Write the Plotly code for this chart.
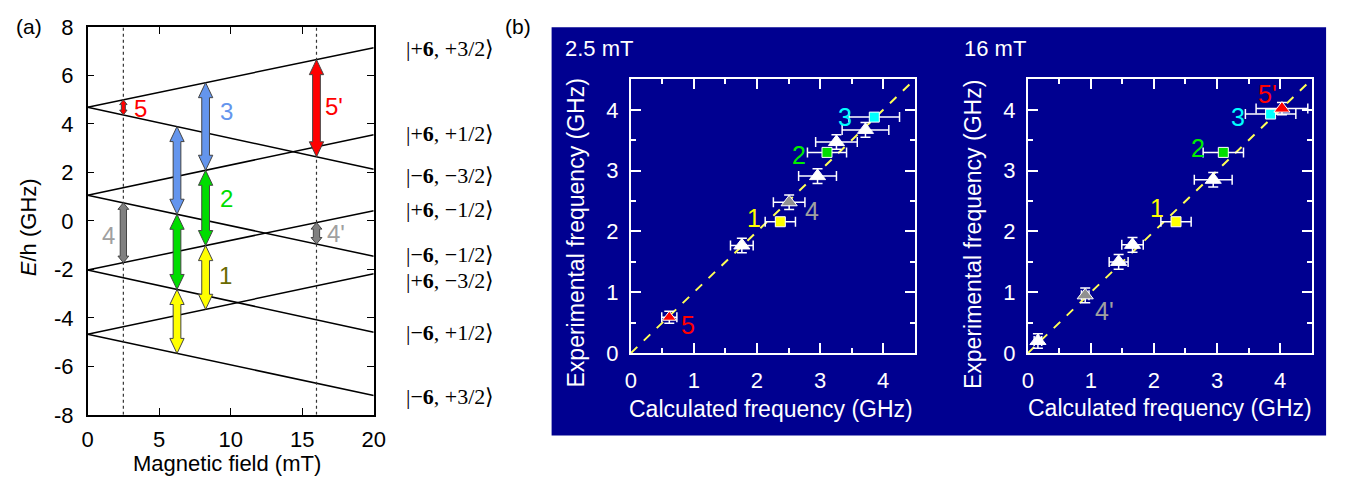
import plotly.graph_objects as go

# ---------------- Panel (a): energy levels ----------------
level_E0 = [4.69, 4.69, 1.06, 1.06, -2.03, -2.03, -4.68, -4.68]
level_E20 = [7.14, 2.13, 3.55, -1.46, 0.42, -4.59, -2.18, -7.2]
field_range = [0, 20]
dotted_fields = [2.5, 16]

ket_labels = ["|+<b>6</b>, +3/2⟩", "|+<b>6</b>, +1/2⟩", "|−<b>6</b>, −3/2⟩", "|+<b>6</b>, −1/2⟩",
              "|−<b>6</b>, −1/2⟩", "|+<b>6</b>, −3/2⟩", "|−<b>6</b>, +1/2⟩", "|−<b>6</b>, +3/2⟩"]
ket_label_E = [7.09, 3.60, 1.88, 0.47, -1.37, -2.47, -4.62, -7.24]

# transitions: field, lower level index, upper level index, colour
arrow_field = [2.5, 2.5, 6.25, 6.25, 6.25, 8.25, 8.25, 8.25, 16, 16]
arrow_low = [1, 4, 3, 5, 7, 2, 4, 6, 1, 3]
arrow_high = [0, 3, 1, 3, 5, 0, 2, 4, 0, 4]
arrow_color = ["#ff0000", "#808080", "#6495ed", "#00dd00", "#ffff00",
               "#6495ed", "#00dd00", "#ffff00", "#ff0000", "#808080"]
arrow_size = ["xs", "s", "l", "l", "l", "l", "l", "l", "l", "s"]

trans_text = ["5", "3", "5'", "2", "4", "4'", "1"]
trans_B = [3.68, 9.74, 17.2, 9.74, 1.49, 17.35, 9.65]
trans_E = [4.63, 4.5, 4.7, 0.94, -0.59, -0.52, -2.24]
trans_color = ["#ff0000", "#6495ed", "#ff0000", "#00dd00", "#a0a0a0", "#a0a0a0", "#6a6a00"]

# ---------------- Panel (b): frequencies ----------------
# 2.5 mT
b1_white_x = [1.76, 2.96, 3.26, 3.72]
b1_white_y = [1.77, 2.91, 3.47, 3.67]
b1_white_xerr = [0.18, 0.30, 0.33, 0.37]
b1_red_x, b1_red_y, b1_red_xerr = [0.61], [0.59], [0.12]
b1_gray_x, b1_gray_y, b1_gray_xerr = [2.51], [2.48], [0.25]
b1_yel_x, b1_yel_y, b1_yel_xerr = [2.37], [2.16], [0.24]
b1_grn_x, b1_grn_y, b1_grn_xerr = [3.11], [3.30], [0.31]
b1_cyn_x, b1_cyn_y, b1_cyn_xerr = [3.86], [3.88], [0.40]
b1_lab_text = ["5", "1", "4", "2", "3"]
b1_lab_x = [0.91, 1.95, 2.88, 2.66, 3.40]
b1_lab_y = [0.46, 2.22, 2.34, 3.25, 3.89]
b1_lab_color = ["#ff0000", "#ffff00", "#a0a0a0", "#00ee00", "#00ffff"]

# 16 mT
b2_white_x = [0.16, 1.44, 1.66, 2.94]
b2_white_y = [0.20, 1.50, 1.78, 2.85]
b2_white_xerr = [0.06, 0.15, 0.17, 0.30]
b2_gray_x, b2_gray_y, b2_gray_xerr = [0.91], [0.95], [0.06]
b2_yel_x, b2_yel_y, b2_yel_xerr = [2.35], [2.16], [0.24]
b2_grn_x, b2_grn_y, b2_grn_xerr = [3.10], [3.30], [0.32]
b2_cyn_x, b2_cyn_y, b2_cyn_xerr = [3.85], [3.93], [0.40]
b2_red_x, b2_red_y, b2_red_xerr = [4.03], [4.02], [0.41]
b2_lab_text = ["4'", "1", "2", "3", "5'"]
b2_lab_x = [1.21, 2.05, 2.70, 3.34, 3.80]
b2_lab_y = [0.69, 2.38, 3.37, 3.89, 4.26]
b2_lab_color = ["#a0a0a0", "#ffff00", "#00ee00", "#00ffff", "#ff0000"]

freq_ticks = [0, 1, 2, 3, 4]
energy_ticks = [-8, -6, -4, -2, 0, 2, 4, 6, 8]
field_ticks = [0, 5, 10, 15, 20]

SANS = "Liberation Sans, Arial, sans-serif"
SERIF = "Liberation Serif, Times New Roman, serif"
NAVY = "#000090"

W, H = 1345, 494
def px(x): return x / W
def py(y): return 1 - y / H

fig = go.Figure()

# energy level lines
for e0, e20 in zip(level_E0, level_E20):
    fig.add_trace(go.Scatter(x=field_range, y=[e0, e20], mode="lines",
                             line=dict(color="black", width=1.5),
                             xaxis="x", yaxis="y", showlegend=False, hoverinfo="skip"))
for b in dotted_fields:
    fig.add_trace(go.Scatter(x=[b, b], y=[energy_ticks[0], energy_ticks[-1]], mode="lines",
                             line=dict(color="#333333", width=1.2, dash="dot"),
                             xaxis="x", yaxis="y", showlegend=False, hoverinfo="skip"))

def level_E(i, b):
    return level_E0[i] + (level_E20[i] - level_E0[i]) * b / field_range[1]

size_style = {"l": (0.27, 0.50, 0.62), "s": (0.22, 0.38, 0.27), "xs": (0.14, 0.26, 0.2)}
for b, lo, hi, col, sz in zip(arrow_field, arrow_low, arrow_high, arrow_color, arrow_size):
    y0, y1 = level_E(lo, b), level_E(hi, b)
    ws, wh, h = size_style[sz]
    xs = [b, b - wh, b - ws, b - ws, b - wh, b, b + wh, b + ws, b + ws, b + wh, b]
    ys = [y0, y0 + h, y0 + h, y1 - h, y1 - h, y1, y1 - h, y1 - h, y0 + h, y0 + h, y0]
    fig.add_trace(go.Scatter(x=xs, y=ys, mode="lines", fill="toself", fillcolor=col,
                             line=dict(color="#444444", width=1),
                             xaxis="x", yaxis="y", showlegend=False, hoverinfo="skip"))

# panel b traces
for ax in ["2", "3"]:
    fig.add_trace(go.Scatter(x=[0, 4.5], y=[0, 4.5], mode="lines",
                             line=dict(color="#ffff55", width=2, dash="dash"),
                             xaxis="x" + ax, yaxis="y" + ax, showlegend=False, hoverinfo="skip"))

def pts(x, y, xerr, yerr, symbol, color, size, ax, outline="white"):
    fig.add_trace(go.Scatter(
        x=x, y=y, mode="markers", xaxis="x" + ax, yaxis="y" + ax, showlegend=False,
        marker=dict(symbol=symbol, color=color, size=size, line=dict(color=outline, width=1)),
        error_x=dict(type="data", array=xerr, color="white", thickness=1.5, width=5),
        error_y=dict(type="data", array=yerr, color="white", thickness=1.5, width=5)))

TRI, SQ = 14, 10
pts(b1_white_x, b1_white_y, b1_white_xerr, [0.12] * 4, "triangle-up", "white", TRI, "2")
pts(b1_red_x, b1_red_y, b1_red_xerr, [0.1], "triangle-up", "red", 12, "2")
pts(b1_gray_x, b1_gray_y, b1_gray_xerr, [0.12], "triangle-up", "#909090", TRI, "2")
pts(b1_yel_x, b1_yel_y, b1_yel_xerr, [0.05], "square", "#ffff00", SQ, "2")
pts(b1_grn_x, b1_grn_y, b1_grn_xerr, [0.05], "square", "#00dd00", SQ, "2")
pts(b1_cyn_x, b1_cyn_y, b1_cyn_xerr, [0.05], "square", "#00ffff", SQ, "2")

pts(b2_white_x, b2_white_y, b2_white_xerr, [0.12] * 4, "triangle-up", "white", TRI, "3")
pts(b2_gray_x, b2_gray_y, b2_gray_xerr, [0.12], "triangle-up", "#909090", TRI, "3")
pts(b2_yel_x, b2_yel_y, b2_yel_xerr, [0.05], "square", "#ffff00", SQ, "3")
pts(b2_grn_x, b2_grn_y, b2_grn_xerr, [0.05], "square", "#00dd00", SQ, "3")
pts(b2_cyn_x, b2_cyn_y, b2_cyn_xerr, [0.05], "square", "#00ffff", SQ, "3")
pts(b2_red_x, b2_red_y, b2_red_xerr, [0.1], "triangle-up", "red", TRI, "3")

annotations = []
# panel a transition labels
for t, b, e, c in zip(trans_text, trans_B, trans_E, trans_color):
    annotations.append(dict(x=b, y=e, xref="x", yref="y", text=t, showarrow=False,
                            xanchor="center", yanchor="middle",
                            font=dict(family=SANS, size=24, color=c)))
# ket labels
for t, e in zip(ket_labels, ket_label_E):
    annotations.append(dict(x=px(403), y=e, xref="paper", yref="y", text=t, showarrow=False,
                            xanchor="left", yanchor="middle",
                            font=dict(family=SERIF, size=22, color="black")))
for txt, xs, ys, cs, ax in [(b1_lab_text, b1_lab_x, b1_lab_y, b1_lab_color, "2"),
                            (b2_lab_text, b2_lab_x, b2_lab_y, b2_lab_color, "3")]:
    for t, x, y, c in zip(txt, xs, ys, cs):
        annotations.append(dict(x=x, y=y, xref="x" + ax, yref="y" + ax, text=t, showarrow=False,
                                xanchor="center", yanchor="middle",
                                font=dict(family=SANS, size=25, color=c)))

def ptext(x, y, text, size, color, angle=0, xanchor="center"):
    return dict(x=px(x), y=py(y), xref="paper", yref="paper", text=text, showarrow=False,
                xanchor=xanchor, yanchor="middle", textangle=angle,
                font=dict(family=SANS, size=size, color=color))

annotations += [
    ptext(8, 15, "(a)", 21, "black", xanchor="left"),
    ptext(504, 15, "(b)", 21, "black", xanchor="left"),
    ptext(224, 476, "Magnetic field (mT)", 22, "black"),
    ptext(23, 227, "<i>E</i>/h (GHz)", 22, "black", angle=-90),
    ptext(565, 38, "2.5 mT", 22, "white", xanchor="left"),
    ptext(969, 38, "16 mT", 22, "white", xanchor="left"),
    ptext(775, 418, "Calculated frequency (GHz)", 23, "white"),
    ptext(1180, 417, "Calculated frequency (GHz)", 23, "white"),
    ptext(578, 233, "Experimental frequency (GHz)", 23, "white", angle=-90),
    ptext(980, 234, "Experimental frequency (GHz)", 23, "white", angle=-90),
]

shapes = [dict(type="rect", xref="paper", yref="paper", x0=px(553), x1=px(1338), y0=py(446), y1=py(16),
               fillcolor=NAVY, line=dict(width=0), layer="below")]

axa = dict(showgrid=False, zeroline=False, showline=True, linecolor="black", linewidth=1.5,
           mirror="ticks", ticks="inside", ticklen=7, tickcolor="black", tickwidth=1.2,
           tickfont=dict(family=SANS, size=22, color="black"))
axb = dict(showgrid=False, zeroline=False, showline=True, linecolor="white", linewidth=2,
           mirror="ticks", ticks="inside", ticklen=10, tickcolor="white", tickwidth=1.5,
           range=[0, 4.5], tickvals=freq_ticks, ticklabelstandoff=6,
           minor=dict(dtick=0.5, tick0=0, ticks="inside", ticklen=5, tickcolor="white", tickwidth=1.5),
           tickfont=dict(family=SANS, size=22, color="white"))

fig.update_layout(
    width=W, height=H, margin=dict(l=0, r=0, t=0, b=0),
    paper_bgcolor="white", plot_bgcolor="rgba(0,0,0,0)", showlegend=False,
    xaxis=dict(axa, domain=[px(82.7), px(372.7)], range=field_range, tickvals=field_ticks,
               ticklabelstandoff=4, anchor="y"),
    yaxis=dict(axa, domain=[py(424.3), py(15.7)], range=[-8, 8], tickvals=energy_ticks,
               ticktext=[str(v) for v in energy_ticks], ticklabelstandoff=8, anchor="x"),
    xaxis2=dict(axb, domain=[px(633.3), px(921)], anchor="y2"),
    yaxis2=dict(axb, domain=[py(359.3), py(71)], anchor="x2"),
    xaxis3=dict(axb, domain=[px(1035.7), px(1323.3)], anchor="y3"),
    yaxis3=dict(axb, domain=[py(359.3), py(71)], anchor="x3"),
    annotations=annotations, shapes=shapes,
)

fig.write_html("out.html", config={"displayModeBar": False},
               post_script="document.body.style.margin='0';")
